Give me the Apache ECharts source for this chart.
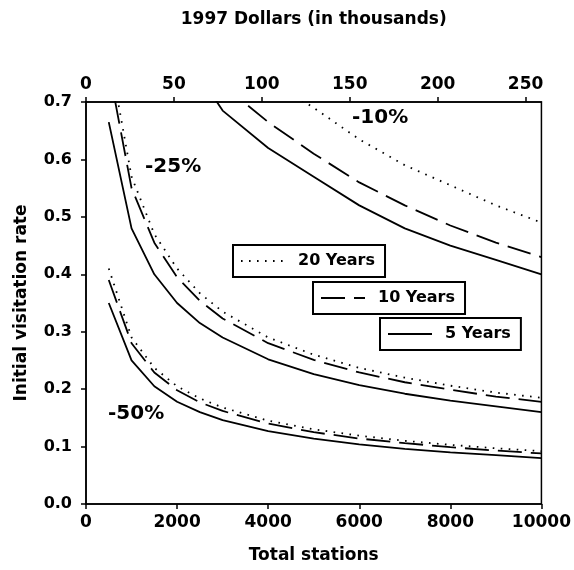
<!DOCTYPE html>
<html><head><meta charset="utf-8">
<script src="https://cdn.jsdelivr.net/npm/echarts@6/dist/echarts.min.js"></script>
<style>html,body{margin:0;padding:0;background:#fff}#c{width:574px;height:570px}</style>
</head><body><div id="c"></div>
<script>
// Data (x = total stations)
const stations = [500, 1000, 1500, 2000, 2500, 3000, 4000, 5000, 6000, 7000, 8000, 9000, 10000];
const dollarTicks = [0, 50, 100, 150, 200, 250];
const dollarMax = 259; // 1997 dollars (thousands) at 10000 stations

// -50% group
const loss50_5yr  = [0.350, 0.250, 0.205, 0.178, 0.160, 0.146, 0.127, 0.114, 0.104, 0.096, 0.090, 0.085, 0.080];
const loss50_10yr = [0.390, 0.280, 0.229, 0.198, 0.177, 0.162, 0.140, 0.125, 0.114, 0.106, 0.099, 0.093, 0.088];
const loss50_20yr = [0.410, 0.290, 0.237, 0.205, 0.184, 0.168, 0.145, 0.130, 0.119, 0.110, 0.103, 0.097, 0.092];
// -25% group
const loss25_5yr  = [0.665, 0.480, 0.400, 0.350, 0.315, 0.290, 0.252, 0.226, 0.207, 0.192, 0.180, 0.170, 0.160];
const loss25_10yr = [0.760, 0.550, 0.455, 0.395, 0.354, 0.323, 0.280, 0.251, 0.229, 0.212, 0.199, 0.187, 0.178];
const loss25_20yr = [0.790, 0.570, 0.470, 0.410, 0.367, 0.335, 0.290, 0.260, 0.237, 0.220, 0.206, 0.194, 0.185];
// -10% group
const loss10_5yr  = [null, null, null, null, 0.745, 0.685, 0.620, 0.570, 0.520, 0.480, 0.450, 0.425, 0.400];
const loss10_10yr = [null, null, null, null, null, 0.730, 0.665, 0.610, 0.560, 0.520, 0.485, 0.455, 0.430];
const loss10_20yr = [null, null, null, null, null, null, 0.740, 0.690, 0.635, 0.590, 0.555, 0.520, 0.490];

const FONT = '"DejaVu Sans", "Liberation Sans", sans-serif';
const styles = {
  '5 Years':  { type: 'solid', width: 1.8 },
  '10 Years': { type: [24, 9], width: 1.8 },
  '20 Years': { type: [1.6, 6.4], width: 1.8 }
};
function mk(name, arr) {
  return {
    type: 'line', name: name, xAxisIndex: 0, yAxisIndex: 0,
    data: stations.map((s, i) => arr[i] == null ? null : [s, arr[i]]).filter(d => d),
    symbol: 'none', showSymbol: false, clip: true, silent: true,
    lineStyle: Object.assign({ color: '#000', cap: 'butt' }, styles[name]),
    itemStyle: { color: '#000' }
  };
}
const series = [
  mk('5 Years', loss50_5yr), mk('10 Years', loss50_10yr), mk('20 Years', loss50_20yr),
  mk('5 Years', loss25_5yr), mk('10 Years', loss25_10yr), mk('20 Years', loss25_20yr),
  mk('5 Years', loss10_5yr), mk('10 Years', loss10_10yr), mk('20 Years', loss10_20yr)
];

const labX = { color: '#000', fontWeight: 'bold', fontSize: 17, fontFamily: FONT };
const labY = { color: '#000', fontWeight: 'bold', fontSize: 16, fontFamily: FONT };
const nameStyle = { color: '#000', fontWeight: 'bold', fontSize: 17, fontFamily: FONT };
const axLine = { show: true, lineStyle: { color: '#000', width: 1.5 } };
const tick = { show: true, inside: false, length: 5, lineStyle: { color: '#000', width: 1.5 } };
const legendBase = {
  orient: 'horizontal', selectedMode: false, itemWidth: 44, itemHeight: 14,
  padding: [8, 10, 8, 7], borderColor: '#000', borderWidth: 2, backgroundColor: '#fff',
  itemStyle: { opacity: 0 },
  textStyle: { color: '#000', fontWeight: 'bold', fontSize: 16, fontFamily: FONT, padding: [0, 0, 0, 8] }
};

const chart = echarts.init(document.getElementById('c'), null, { renderer: 'canvas' });
chart.setOption({
  animation: false,
  backgroundColor: '#fff',
  grid: { left: 86, right: 32, top: 102, bottom: 66, show: true, borderColor: '#000', borderWidth: 1.5, backgroundColor: 'transparent' },
  xAxis: [
    {
      type: 'value', position: 'bottom', min: 0, max: 10000, interval: 2000,
      axisLine: axLine, axisTick: tick,
      axisLabel: Object.assign({ margin: 10, formatter: v => String(v) }, labX), splitLine: { show: false },
      name: 'Total stations', nameLocation: 'middle', nameGap: 43, nameTextStyle: nameStyle
    },
    {
      type: 'value', position: 'top', min: 0, max: dollarMax,
      axisLine: axLine,
      axisTick: Object.assign({ customValues: dollarTicks }, tick),
      axisLabel: Object.assign({ margin: 9, customValues: dollarTicks }, labX), splitLine: { show: false },
      name: '1997 Dollars (in thousands)', nameLocation: 'middle', nameGap: 74, nameTextStyle: nameStyle
    }
  ],
  yAxis: [{
    type: 'value', min: 0, max: 0.7, interval: 0.1,
    axisLine: axLine, axisTick: tick,
    axisLabel: Object.assign({ margin: 14, formatter: v => v.toFixed(1) }, labY), splitLine: { show: false },
    name: 'Initial visitation rate', nameLocation: 'middle', nameGap: 56, nameRotate: 90, nameTextStyle: nameStyle
  }],
  legend: [
    Object.assign({ data: ['20 Years'], left: 233, top: 245 }, legendBase),
    Object.assign({ data: ['10 Years'], left: 313, top: 282 }, legendBase),
    Object.assign({ data: ['5 Years'], left: 380, top: 318 }, legendBase)
  ],
  graphic: [
    { type: 'text', left: 352, top: 108, style: { text: '-10%', font: 'bold 20px ' + FONT, fill: '#000' } },
    { type: 'text', left: 145, top: 157, style: { text: '-25%', font: 'bold 20px ' + FONT, fill: '#000' } },
    { type: 'text', left: 108, top: 404, style: { text: '-50%', font: 'bold 20px ' + FONT, fill: '#000' } }
  ],
  series: series
});
</script></body></html>
